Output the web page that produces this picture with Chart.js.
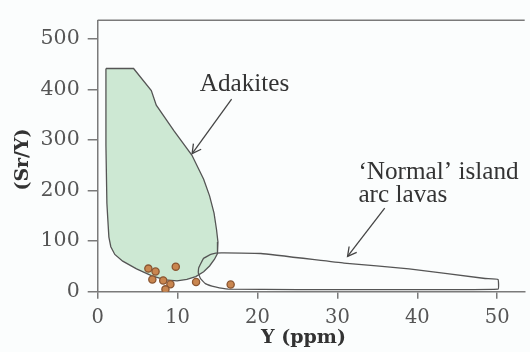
<!DOCTYPE html>
<html><head><meta charset="utf-8">
<script src="https://cdn.jsdelivr.net/npm/chart.js@4.4.0/dist/chart.umd.min.js"></script>
<style>html,body{margin:0;padding:0;background:#fbfdfd;}canvas{display:block}</style>
</head><body>
<canvas id="c" width="530" height="352"></canvas>
<script>
const xTicks = [0, 10, 20, 30, 40, 50];
const yTicks = [0, 100, 200, 300, 400, 500];

// Adakite field outline (Y ppm, Sr/Y)
const adakiteX = [1.03, 4.49, 6.71, 7.33, 9.55, 11.78, 13.26, 14.0, 14.56, 14.87, 15.05, 14.99, 14.62, 14.0, 13.26, 12.27, 11.16, 9.93, 8.44, 6.71, 4.86, 3.13, 2.14, 1.64, 1.4, 1.27, 1.15, 1.03, 1.03];
const adakiteY = [441.5, 441.5, 397.7, 369, 318, 270.4, 222.4, 189.6, 155.6, 123, 98.5, 75.6, 64.2, 50.9, 39.4, 29.9, 24.2, 21.3, 23.2, 31.8, 45.2, 60.4, 73.7, 89, 108, 142, 175, 289, 441.5];

// 'Normal' island arc lavas outline
const arcX = [12.58, 12.64, 13.26, 14.25, 15.49, 20.43, 30.82, 38.97, 48.49, 50.1, 50.1, 25.0, 16.35, 14.71, 13.47, 12.86, 12.58];
const arcY = [37.5, 47.1, 66.1, 74.3, 76.6, 75.6, 56.6, 45.2, 26.1, 24.2, 5.1, 4.2, 5.1, 9.5, 16, 26.1, 37.5];

// Samples
const sampleX = [6.34, 7.24, 9.77, 6.84, 8.2, 9.1, 8.48, 12.31, 16.64];
const sampleY = [45.7, 40, 49.5, 24.2, 22.3, 14.7, 4.6, 19.1, 14.1];

const xTitle = 'Y (ppm)';
const yTitle = '(Sr/Y)';
const adakiteLabel = ['Adakites'];
const arcLabel = ['‘Normal’ island', 'arc lavas'];

const zip = (xs, ys) => xs.map((v, i) => ({x: v, y: ys[i]}));

function arrow(ctx, x1, y1, x2, y2) {
  ctx.beginPath(); ctx.moveTo(x1, y1); ctx.lineTo(x2, y2); ctx.stroke();
  const a = Math.atan2(y2 - y1, x2 - x1), L = 10, w = 0.5;
  ctx.beginPath();
  ctx.moveTo(x2 - L * Math.cos(a - w), y2 - L * Math.sin(a - w));
  ctx.lineTo(x2, y2);
  ctx.lineTo(x2 - L * Math.cos(a + w), y2 - L * Math.sin(a + w));
  ctx.stroke();
}

const annot = {
  id: 'annot',
  afterDatasetsDraw(chart) {
    const {ctx, chartArea: a, scales: {x, y}} = chart;
    ctx.save();
    ctx.strokeStyle = '#7a7a7a'; ctx.lineWidth = 1.5;
    ctx.beginPath(); ctx.moveTo(a.left, a.top); ctx.lineTo(a.right, a.top); ctx.stroke();

    ctx.fillStyle = '#333';
    ctx.font = '25.2px "Liberation Serif"';
    ctx.textAlign = 'left'; ctx.textBaseline = 'alphabetic';
    ctx.fillText(adakiteLabel[0], x.getPixelForValue(12.77), y.getPixelForValue(397.7));
    ctx.fillText(arcLabel[0], x.getPixelForValue(32.63), y.getPixelForValue(222.4));
    ctx.fillText(arcLabel[1], x.getPixelForValue(32.63), y.getPixelForValue(178));

    ctx.strokeStyle = '#444'; ctx.lineWidth = 1.3;
    arrow(ctx, x.getPixelForValue(16.76), y.getPixelForValue(381.1), x.getPixelForValue(11.82), y.getPixelForValue(273.2));
    arrow(ctx, x.getPixelForValue(35.92), y.getPixelForValue(165.2), x.getPixelForValue(31.27), y.getPixelForValue(69.9));

    ctx.fillStyle = '#333';
    ctx.font = 'bold 19px "DejaVu Serif"';
    ctx.textAlign = 'center'; ctx.textBaseline = 'middle';
    ctx.fillText(xTitle, 303.5, 338);
    ctx.translate(23, 159.5); ctx.rotate(-Math.PI / 2);
    ctx.fillText(yTitle, 0, 0);
    ctx.restore();
  }
};

new Chart(document.getElementById('c'), {
  type: 'scatter',
  data: {
    datasets: [
      {data: zip(sampleX, sampleY), pointRadius: 3.6, pointBackgroundColor: '#c9864f', pointBorderColor: '#8a5632', pointBorderWidth: 1.3, order: 0},
      {type: 'line', data: zip(arcX, arcY), borderColor: '#555', borderWidth: 1.3, fill: false, tension: 0.1, pointRadius: 0, order: 1},
      {type: 'line', data: zip(adakiteX, adakiteY), borderColor: '#555', borderWidth: 1.3, backgroundColor: '#cde8d3', fill: 'shape', tension: 0, pointRadius: 0, order: 2}
    ]
  },
  options: {
    responsive: false, animation: false, devicePixelRatio: 1,
    layout: {padding: {top: 10, left: 0, right: 0, bottom: 0}},
    plugins: {legend: {display: false}, tooltip: {enabled: false}},
    scales: {
      x: {
        type: 'linear', min: 0, max: 53.44,
        afterBuildTicks: s => { s.ticks = xTicks.map(v => ({value: v})); },
        afterFit: s => { s.height = 60.3; },
        grid: {drawOnChartArea: false, drawTicks: true, tickLength: 7, color: '#7a7a7a', lineWidth: 1.5},
        border: {display: true, color: '#7a7a7a', width: 1.5},
        ticks: {color: '#555', font: {family: '"DejaVu Serif"', size: 19.5}, padding: 8, maxRotation: 0}
      },
      y: {
        type: 'linear', min: 0, max: 536.8,
        afterBuildTicks: s => { s.ticks = yTicks.map(v => ({value: v})); },
        afterFit: s => { s.width = 97.7; },
        grid: {drawOnChartArea: false, drawTicks: true, tickLength: 10, color: '#7a7a7a', lineWidth: 1.5},
        border: {display: true, color: '#7a7a7a', width: 1.5},
        ticks: {color: '#555', font: {family: '"DejaVu Serif"', size: 20.5}, padding: 8}
      }
    }
  },
  plugins: [annot]
});
</script>
</body></html>
